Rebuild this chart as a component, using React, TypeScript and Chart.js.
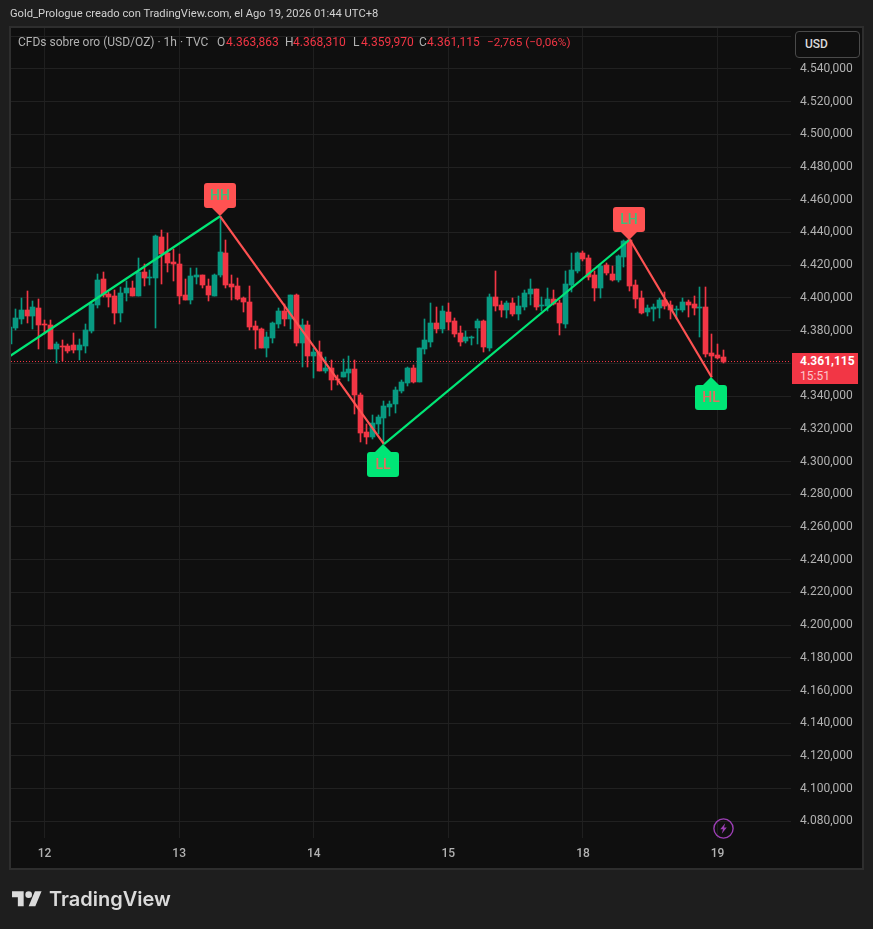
import React, { useEffect, useRef } from "react";
import { Chart, registerables } from "chart.js";

Chart.register(...registerables);

const FONT = "Roboto, sans-serif";

const opens = [4371.7,4381.5,4387.0,4392.5,4388.8,4393.7,4383.9,4383.3,4368.6,4370.9,4370.5,4371.1,4368.0,4370.5,4379.6,4395.5,4411.4,4402.3,4401.0,4390.6,4402.9,4405.9,4401.0,4415.7,4412.2,4412.0,4437.1,4427.3,4421.8,4420.6,4401.7,4398.6,4412.7,4413.9,4407.2,4401.0,4413.9,
4427.3,4408.4,4407.2,4399.8,4397.4,4382.7,4380.9,4369.3,4375.4,4383.9,4391.9,4387.0,4401.7,4372.3,4383.3,4364.4,4366.8,4355.2,4357.1,4350.3,4351.5,4354.0,4356.5,4340.5,4317.9,4314.9,4322.8,4326.5,4333.2,4335.0,4343.0,4347.9,4357.1,4348.5,4368.6,4372.9,4384.5,4380.9,4391.3,
4385.8,4378.4,4373.5,4375.8,4381.5,4385.8,4369.3,4400.4,4395.5,4392.5,4396.8,4390.0,4394.3,4402.3,4405.3,4395.1,4394.9,4399.2,4396.8,4383.9,4407.8,4416.3,4427.3,4424.3,4413.9,4405.9,4420.0,4414.5,4410.8,4424.9,4435.3,4407.8,4399.8,4391.3,4393.1,4393.7,4398.6,4395.5,4392.5,4392.5,4397.4,4396.2,4393.9,4394.3,4366.2,4365.0,4363.863];
const highs = [4382.3,4393.1,4399.8,4404.1,4398.0,4399.2,4386.4,4386.4,4372.9,4374.1,4372.1,4378.4,4374.8,4383.9,4397.4,4414.5,4415.7,4403.5,4404.7,4406.5,4410.2,4410.2,4424.3,4420.6,4416.9,4438.3,4441.4,4439.6,4429.8,4426.7,4411.4,4418.2,4418.2,4413.9,4411.4,4414.5,4449.9,
4435.3,4413.9,4412.0,4400.4,4407.2,4385.8,4381.5,4379.0,4385.2,4393.7,4396.2,4401.7,4402.3,4387.0,4385.8,4369.3,4373.5,4363.8,4362.0,4352.8,4362.6,4364.4,4362.0,4341.7,4322.8,4328.3,4328.3,4336.7,4336.9,4345.4,4349.7,4357.7,4358.9,4369.3,4387.0,4396.8,4394.3,4394.9,4396.8,
4387.6,4382.7,4379.6,4376.6,4387.0,4386.4,4402.3,4416.3,4398.0,4398.0,4399.8,4401.0,4404.7,4411.4,4405.3,4400.4,4405.9,4404.7,4398.6,4416.3,4427.3,4427.9,4428.5,4426.1,4416.3,4420.6,4421.2,4419.4,4426.1,4435.3,4435.9,4410.8,4404.1,4395.5,4396.2,4399.8,4403.5,4398.0,4394.9,4399.8,4398.6,4401.0,4406.5,4406.5,4377.8,4371.7,4368.31];
const lows = [4371.7,4380.3,4383.9,4384.5,4380.9,4368.6,4378.2,4368.6,4360.1,4361.3,4366.4,4366.2,4361.9,4366.2,4378.4,4393.7,4400.6,4394.3,4383.9,4385.1,4398.0,4401.0,4401.0,4407.2,4407.8,4381.5,4408.4,4415.7,4410.2,4396.1,4398.6,4396.1,4408.4,4405.9,4398.0,4401.0,4412.7,
4405.9,4398.6,4398.6,4391.3,4380.3,4368.6,4369.3,4363.8,4372.3,4381.5,4382.7,4380.9,4370.5,4357.7,4357.7,4350.9,4355.2,4354.0,4343.6,4346.6,4351.5,4349.1,4328.9,4311.8,4310.6,4313.6,4316.7,4310.6,4327.7,4329.5,4341.7,4346.0,4347.9,4348.5,4365.6,4369.9,4378.4,4378.4,4380.3,
4376.0,4370.5,4372.3,4371.1,4371.7,4366.8,4367.4,4391.9,4388.2,4387.6,4388.8,4386.4,4392.5,4395.5,4392.5,4391.9,4391.9,4395.5,4377.2,4381.5,4403.5,4415.1,4422.4,4410.8,4398.0,4399.8,4413.9,4410.2,4409.6,4418.8,4404.1,4393.7,4390.0,4388.8,4385.8,4387.6,4393.1,4387.0,4387.0,4391.3,4388.2,4389.4,4376.0,4363.8,4351.5,4362.6,4359.97];
const closes = [4382.3,4387.6,4392.5,4388.8,4394.3,4383.3,4383.5,4368.6,4371.7,4370.1,4367.4,4368.0,4371.1,4380.3,4396.1,4410.8,4401.7,4400.4,4390.6,4402.9,4405.9,4401.0,4415.7,4412.0,4412.7,4437.7,4426.7,4421.2,4420.6,4401.0,4398.6,4413.3,4413.9,4407.8,4401.7,4413.9,4427.9,
4407.8,4406.5,4399.2,4397.4,4382.1,4380.3,4369.3,4376.0,4384.5,4391.9,4387.0,4401.7,4372.3,4383.3,4364.4,4366.8,4355.2,4357.1,4349.7,4349.7,4354.6,4356.5,4340.5,4317.3,4314.9,4323.4,4327.1,4333.8,4335.0,4343.6,4348.5,4357.1,4348.5,4369.3,4374.1,4384.5,4380.9,4391.9,4385.2,
4377.8,4372.9,4376.0,4376.4,4385.8,4369.9,4400.4,4394.9,4392.5,4396.8,4390.0,4394.9,4402.9,4405.3,4394.3,4395.5,4399.2,4396.2,4384.5,4408.4,4416.9,4427.3,4423.7,4412.7,4405.9,4419.4,4415.1,4410.8,4425.5,4434.7,4407.2,4399.2,4390.6,4393.7,4394.3,4398.6,4394.9,4392.5,4393.1,4397.4,4395.5,4393.7,4394.3,4365.6,4364.4,4363.2,4361.115];

const barNumbers = opens.map((_, i) => i + 1);

const zigzagBars = [0, 37, 65, 107, 121];
const zigzagPrices = [4361.9, 4449.9, 4310.6, 4435.7, 4351.5];
const zigzagLabels = ["", "HH", "LL", "LH", "HL"];

const priceTicks = [4560,4540,4520,4500,4480,4460,4440,4420,4400,4380,4360,4340,4320,4300,4280,4260,4240,4220,4200,4180,4160,4140,4120,4100,4080];
const dayBars = [7, 30, 53, 76, 99, 122];
const dayLabels = ["12", "13", "14", "15", "18", "19"];

const lastPrice = 4361.115;
const xRange = [1.265, 134.55];
const yRange = [4069.87, 4564.98];

const UP = "#089981";
const DOWN = "#F23645";
const PIVOT_GREEN = "#00E676";
const PIVOT_RED = "#FF5252";

const formatPrice = (v: number) => {
  const s = String(v);
  return `${s[0]}.${s.slice(1)},000`;
};

const framePlugin = {
  id: "frame",
  beforeDraw(chart: any) {
    const { ctx } = chart;
    ctx.save();
    ctx.fillStyle = "#1E1E1E";
    ctx.fillRect(0, 0, 873, 929);
    ctx.fillStyle = "#0F0F0F";
    ctx.fillRect(10, 27, 853, 842);
    ctx.strokeStyle = "#2E2E2E";
    ctx.lineWidth = 2;
    ctx.strokeRect(10, 27, 853, 842);
    ctx.restore();
  },
};

const snapPlugin = {
  id: "snap",
  beforeDatasetsDraw(chart: any) {
    chart.data.datasets.forEach((ds: any, di: number) => {
      if (ds.type === "line") return;
      chart.getDatasetMeta(di).data.forEach((el: any) => {
        const top = Math.round(Math.min(el.y, el.base));
        let bottom = Math.round(Math.max(el.y, el.base));
        if (bottom <= top) bottom = top + 1;
        el.x = Math.floor(el.x) + 0.5;
        el.y = top;
        el.base = bottom;
      });
    });
  },
};

const pivotPlugin = {
  id: "pivots",
  afterDatasetsDraw(chart: any) {
    const { ctx, scales } = chart;
    ctx.save();
    zigzagLabels.forEach((label, i) => {
      if (!label) return;
      const tx = Math.floor(scales.x.getPixelForValue(zigzagBars[i]));
      const ty = Math.round(scales.y.getPixelForValue(zigzagPrices[i]));
      const above = label === "HH" || label === "LH";
      const w = 32, h = 25, gap = 8, half = 8;
      const boxTop = above ? ty - gap - h : ty + gap;
      const baseY = above ? boxTop + h : boxTop;
      ctx.fillStyle = above ? PIVOT_RED : PIVOT_GREEN;
      ctx.beginPath();
      ctx.roundRect(tx - 16, boxTop, w, h, 3);
      ctx.fill();
      ctx.beginPath();
      ctx.moveTo(tx - half, baseY);
      ctx.lineTo(tx, ty);
      ctx.lineTo(tx + half, baseY);
      ctx.closePath();
      ctx.fill();
      ctx.fillStyle = above ? "#3FBF78" : "#E0705F";
      ctx.font = `500 14px ${FONT}`;
      ctx.textAlign = "center";
      ctx.textBaseline = "alphabetic";
      ctx.fillText(label, tx, boxTop + 17);
    });
    ctx.restore();
  },
};

const textBase: React.CSSProperties = {
  position: "absolute",
  fontFamily: FONT,
  fontSize: 12,
  lineHeight: "16px",
  whiteSpace: "pre",
};

function Seg({ x, y, color, children, size }: any) {
  return (
    <div style={{ ...textBase, left: x, top: y, color, fontSize: size || 12 }}>{children}</div>
  );
}

export default function App() {
  const ref = useRef<HTMLCanvasElement>(null);

  useEffect(() => {
    const chart = new Chart(ref.current as HTMLCanvasElement, {
      type: "bar",
      data: {
        datasets: [
          {
            type: "line",
            data: zigzagBars.map((x, i) => ({ x, y: zigzagPrices[i] })),
            borderWidth: 2.2,
            pointRadius: 0,
            tension: 0,
            order: 0,
            borderColor: PIVOT_GREEN,
            segment: {
              borderColor: (c: any) => (c.p1DataIndex % 2 ? PIVOT_GREEN : PIVOT_RED),
            },
          },
          {
            data: barNumbers.map((x, i) => ({ x, y: [Math.min(opens[i], closes[i]), Math.max(opens[i], closes[i])] })),
            backgroundColor: barNumbers.map((_, i) => (closes[i] >= opens[i] ? UP : DOWN)),
            barThickness: 5,
            grouped: false,
            order: 1,
          },
          {
            data: barNumbers.map((x, i) => ({ x, y: [lows[i], highs[i]] })),
            backgroundColor: barNumbers.map((_, i) => (closes[i] >= opens[i] ? UP : DOWN)),
            barThickness: 1,
            grouped: false,
            order: 2,
          },
          {
            type: "line",
            data: xRange.map((x) => ({ x, y: lastPrice })),
            borderColor: DOWN,
            borderWidth: 1,
            borderDash: [1, 2],
            pointRadius: 0,
            order: 3,
          },
        ] as any,
      },
      options: {
        responsive: false,
        animation: false,
        events: [],
        layout: { padding: { left: 11, top: 28, right: 10, bottom: 61 } },
        plugins: { legend: { display: false }, tooltip: { enabled: false }, title: { display: false } },
        scales: {
          x: {
            type: "linear",
            offset: false,
            min: xRange[0],
            max: xRange[1],
            border: { display: false },
            grid: { color: "#1F1F1F", drawTicks: false, offset: false },
            afterBuildTicks: (s: any) => {
              s.ticks = dayBars.map((value) => ({ value }));
            },
            afterFit: (s: any) => {
              s.height = 30;
            },
            ticks: {
              autoSkip: false,
              maxRotation: 0,
              padding: 9,
              color: "#B2B2B2",
              font: { family: FONT, size: 12, weight: "500" },
              callback: (v: any) => dayLabels[dayBars.indexOf(v)],
            },
          },
          y: {
            position: "right",
            min: yRange[0],
            max: yRange[1],
            border: { display: false },
            grid: { color: "#212121", drawTicks: false },
            afterBuildTicks: (s: any) => {
              s.ticks = priceTicks.map((value) => ({ value }));
            },
            afterFit: (s: any) => {
              s.width = 72;
            },
            ticks: {
              autoSkip: false,
              padding: 9,
              color: "#B2B2B2",
              font: { family: FONT, size: 12 },
              callback: (v: any) => (v === 4560 ? "" : formatPrice(v)),
            },
          },
        },
      } as any,
      plugins: [framePlugin, snapPlugin, pivotPlugin],
    });
    return () => chart.destroy();
  }, []);

  return (
    <div style={{ position: "absolute", left: 0, top: 0, width: 873, height: 929, overflow: "hidden", background: "#1E1E1E" }}>
      <canvas ref={ref} width={873} height={929} style={{ display: "block" }} />

      <Seg x={10} y={6} color="#D1D1D1" size={11.2}>Gold_Prologue creado con TradingView.com, el Ago 19, 2026 01:44 UTC+8</Seg>

      <Seg x={18} y={34} color="#B2B2B2">CFDs sobre oro (USD/OZ) · 1h · TVC</Seg>
      <Seg x={217} y={34} color="#B2B2B2">O</Seg>
      <Seg x={226} y={34} color={DOWN}>4.363,863</Seg>
      <Seg x={285} y={34} color="#B2B2B2">H</Seg>
      <Seg x={293} y={34} color={DOWN}>4.368,310</Seg>
      <Seg x={353} y={34} color="#B2B2B2">L</Seg>
      <Seg x={361} y={34} color={DOWN}>4.359,970</Seg>
      <Seg x={419} y={34} color="#B2B2B2">C</Seg>
      <Seg x={427} y={34} color={DOWN}>4.361,115</Seg>
      <Seg x={487} y={34} color={DOWN} size={11.7}>−2,765 (−0,06%)</Seg>

      <div style={{ ...textBase, left: 795, top: 31, width: 63, height: 25, boxSizing: "content-box", border: "1px solid #4A4A4A", borderRadius: 4, background: "#0F0F0F", color: "#DBDBDB", lineHeight: "25px", textIndent: 9, fontWeight: 500 }}>USD</div>

      <div style={{ position: "absolute", left: 792, top: 353, width: 66, height: 31, background: DOWN }} />
      <div style={{ ...textBase, left: 800, top: 353, color: "#FFFFFF", fontWeight: 700 }}>4.361,115</div>
      <div style={{ ...textBase, left: 800, top: 368, color: "#FBC6CB" }}>15:51</div>

      <svg style={{ position: "absolute", left: 713, top: 818 }} width="21" height="21" viewBox="0 0 21 21">
        <circle cx="10.5" cy="10.5" r="9.6" fill="none" stroke="#9C3FB5" strokeWidth="1.4" />
        <path d="M12.2 5.2 L7.2 11.2 H10 L8.8 15.8 L13.8 9.6 H11 Z" fill="#9C3FB5" />
      </svg>

      <svg style={{ position: "absolute", left: 12, top: 888 }} width="30" height="23.3" viewBox="0 0 36 28">
        <path d="M14 22H7V11H0V4h14v18zM28 22h-8l7.5-18h8L28 22z" fill="#DBDBDB" />
        <circle cx="20" cy="8" r="4" fill="#DBDBDB" />
      </svg>
      <div style={{ position: "absolute", left: 49, top: 886, fontFamily: "Inter, sans-serif", fontWeight: 600, fontSize: 20, lineHeight: "26px", color: "#DBDBDB", whiteSpace: "pre" }}>TradingView</div>
    </div>
  );
}
